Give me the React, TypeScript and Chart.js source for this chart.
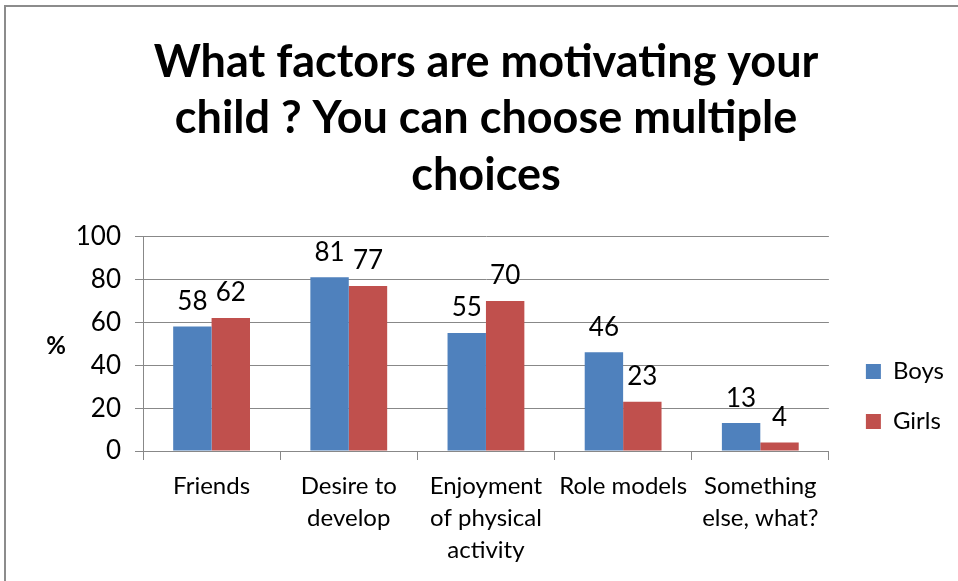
import React, { useEffect, useRef } from "react";
import { Chart, registerables } from "chart.js";
Chart.register(...registerables);

const titleLines = ["What factors are motivating your", "child ? You can choose multiple", "choices"];
const categories = [
  ["Friends"],
  ["Desire to", "develop"],
  ["Enjoyment", "of physical", "activity"],
  ["Role models"],
  ["Something", "else, what?"],
];
const seriesNames = ["Boys", "Girls"];
const boysValues = [58, 81, 55, 46, 13];
const girlsValues = [62, 77, 70, 23, 4];
const yAxisLabel = "%";
const yMin = 0;
const yMax = 100;
const yStep = 20;

const FONT = "Lato, 'Open Sans', sans-serif";
const PAD_LEFT = 29;

export default function App() {
  const ref = useRef<HTMLCanvasElement>(null);
  useEffect(() => {
    if (!ref.current) return;
    const valueLabels = {
      id: "valueLabels",
      afterDatasetsDraw(chart: any) {
        const ctx = chart.ctx;
        ctx.save();
        ctx.font = `26px ${FONT}`;
        ctx.fillStyle = "#000";
        ctx.textAlign = "center";
        ctx.textBaseline = "bottom";
        chart.data.datasets.forEach((ds: any, di: number) => {
          const meta = chart.getDatasetMeta(di);
          meta.data.forEach((bar: any, i: number) => {
            ctx.fillText(String(ds.data[i]), bar.x, bar.y - 12);
          });
        });
        ctx.restore();
      },
    };
    const yLabel = {
      id: "yLabel",
      afterDraw(chart: any) {
        const ctx = chart.ctx;
        const a = chart.chartArea;
        ctx.save();
        ctx.font = `bold 24px ${FONT}`;
        ctx.fillStyle = "#000";
        ctx.textAlign = "center";
        ctx.textBaseline = "middle";
        ctx.fillText(yAxisLabel, 56, (a.top + a.bottom) / 2 + 2);
        ctx.restore();
      },
    };
    const legendPlace = {
      id: "legendPlace",
      afterLayout(chart: any) {
        const lg = chart.legend;
        if (!lg) return;
        const h = lg.bottom - lg.top;
        lg.left += 11;
        lg.right += 11;
        lg.top = chart.chartArea.top + 97;
        lg.bottom = lg.top + h;
      },
    };
    const chart = new Chart(ref.current, {
      type: "bar",
      data: {
        labels: categories,
        datasets: [
          { label: seriesNames[0], data: boysValues, backgroundColor: "#4F81BD", borderWidth: 0, categoryPercentage: 0.56, barPercentage: 1 },
          { label: seriesNames[1], data: girlsValues, backgroundColor: "#C0504D", borderWidth: 0, categoryPercentage: 0.56, barPercentage: 1 },
        ],
      },
      options: {
        responsive: false,
        animation: false,
        layout: { padding: { left: PAD_LEFT, right: 15, top: 0, bottom: 0 } },
        plugins: {
          title: {
            display: true,
            text: titleLines,
            color: "#000",
            font: { family: FONT, size: 45, weight: "bold", lineHeight: 1.256 },
            padding: { top: 34, bottom: 33 },
          },
          legend: {
            position: "right",
            align: "start",
            labels: {
              color: "#000",
              boxWidth: 15,
              boxHeight: 15,
              padding: 26,
              font: { family: FONT, size: 24 },
            },
          },
          tooltip: { enabled: false },
        },
        scales: {
          x: {
            afterFit(scale: any) {
              scale.height = 130;
            },
            grid: {
              display: true,
              offset: true,
              drawOnChartArea: false,
              drawTicks: true,
              tickLength: 9,
              color: "#888",
            },
            border: { display: true, color: "#888", width: 1 },
            ticks: {
              color: "#000",
              padding: 10,
              maxRotation: 0,
              autoSkip: false,
              font: { family: FONT, size: 24, lineHeight: 1.33 },
            },
          },
          y: {
            min: yMin,
            max: yMax,
            afterFit(scale: any) {
              scale.width = 143 - PAD_LEFT;
            },
            grid: { color: "#888", drawTicks: true, tickLength: 8 },
            border: { display: true, color: "#888", width: 1 },
            ticks: {
              stepSize: yStep,
              color: "#000",
              padding: 14,
              font: { family: FONT, size: 26 },
            },
          },
        },
      } as any,
      plugins: [valueLabels, yLabel, legendPlace],
    });
    return () => chart.destroy();
  }, []);
  return (
    <div style={{ position: "fixed", left: 0, top: 0, width: 958, height: 581, overflow: "hidden", background: "#fff" }}>
      <div style={{ position: "absolute", left: 4, top: 5, width: 1200, height: 1200, border: "2px solid #8c8c8c" }} />
      <canvas ref={ref} width={958} height={581} style={{ position: "absolute", left: 0, top: 0 }} />
    </div>
  );
}
